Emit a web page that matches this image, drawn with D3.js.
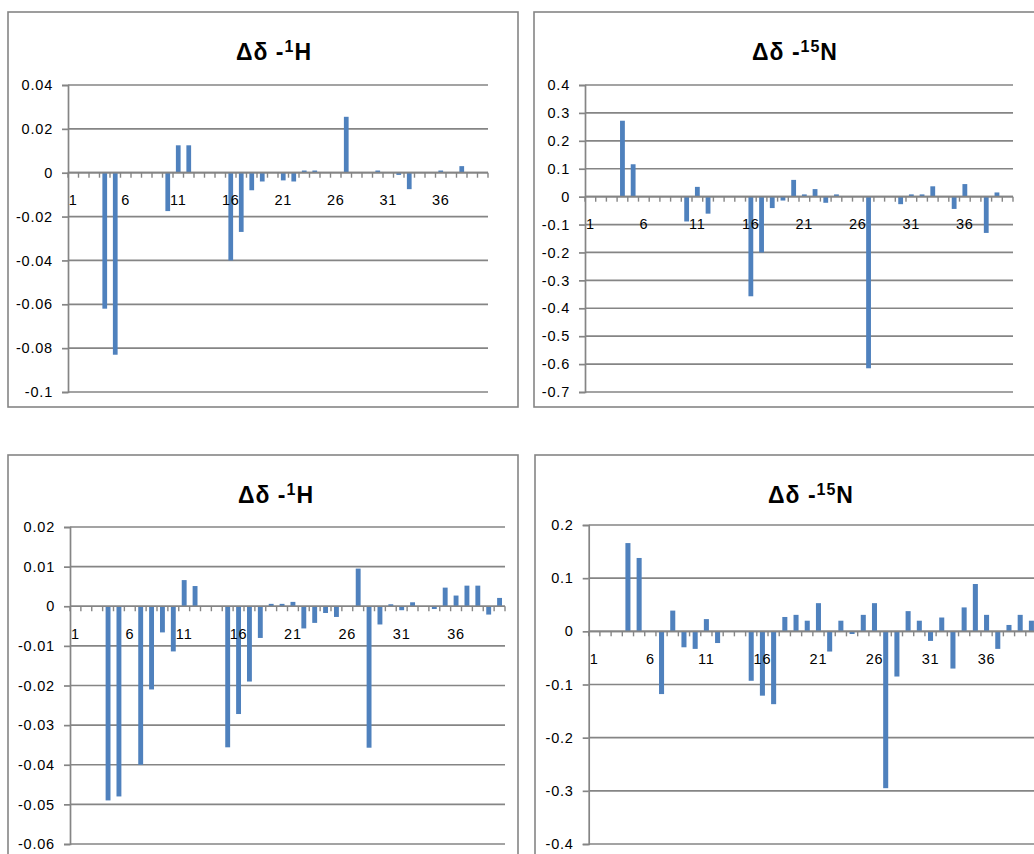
<!DOCTYPE html>
<html>
<head>
<meta charset="utf-8">
<script src="https://cdn.jsdelivr.net/npm/d3@7"></script>
<style>
  html, body { margin: 0; padding: 0; background: #fff; }
  svg { display: block; overflow: hidden; }
  text { font-family: "Liberation Sans", Arial, sans-serif; }
</style>
</head>
<body>
<svg id="chart" width="1034" height="854"></svg>
<script>
// ---------- data ----------
const categories = d3.range(1, 41).map(String);
const xTickLabels = ["1", "6", "11", "16", "21", "26", "31", "36"];

const titles = [
  { main: "Δδ -", sup: "1", tail: "H" },
  { main: "Δδ -", sup: "15", tail: "N" },
  { main: "Δδ -", sup: "1", tail: "H" },
  { main: "Δδ -", sup: "15", tail: "N" }
];

const hShiftTop = [0, 0, 0, -0.062, -0.083, 0, 0, 0, 0, -0.0175,
  0.0125, 0.0125, 0, 0, 0, -0.040, -0.027, -0.008, -0.004, 0,
  -0.0035, -0.004, 0.001, 0.001, 0, 0, 0.0255, 0, 0, 0.001,
  0, -0.001, -0.0075, 0, 0, 0.001, 0, 0.003, 0, 0];

const nShiftTop = [0, 0, 0, 0.272, 0.116, 0, 0, 0, 0, -0.089,
  0.035, -0.061, 0, 0, 0, -0.357, -0.20, -0.041, -0.014, 0.06,
  0.008, 0.027, -0.022, 0.008, 0, 0, -0.615, 0, 0, -0.027,
  0.008, 0.008, 0.037, 0, -0.044, 0.045, 0, -0.13, 0.015, 0];

const hShiftBottom = [0, 0, 0, -0.049, -0.048, 0, -0.040, -0.021, -0.0066, -0.0114,
  0.0066, 0.0051, 0, 0, -0.0356, -0.0272, -0.019, -0.008, 0.0006, 0.0006,
  0.0011, -0.0056, -0.0042, -0.0017, -0.0027, 0, 0.0095, -0.0357, -0.0046, 0.0005,
  -0.001, 0.001, 0, -0.0007, 0.0047, 0.0027, 0.0052, 0.0052, -0.0021, 0.0021];

const nShiftBottom = [0, 0, 0, 0.166, 0.138, 0, -0.118, 0.039, -0.030, -0.033,
  0.023, -0.022, 0, 0, -0.093, -0.121, -0.137, 0.027, 0.031, 0.020,
  0.053, -0.038, 0.020, -0.005, 0.031, 0.053, -0.295, -0.085, 0.038, 0.020,
  -0.018, 0.026, -0.070, 0.045, 0.089, 0.031, -0.033, 0.012, 0.031, 0.020];

const yTicksHTop = [0.04, 0.02, 0, -0.02, -0.04, -0.06, -0.08, -0.1];
const yTicksNTop = [0.4, 0.3, 0.2, 0.1, 0, -0.1, -0.2, -0.3, -0.4, -0.5, -0.6, -0.7];
const yTicksHBottom = [0.02, 0.01, 0, -0.01, -0.02, -0.03, -0.04, -0.05, -0.06];
const yTicksNBottom = [0.2, 0.1, 0, -0.1, -0.2, -0.3, -0.4];

// ---------- layout ----------
const panels = [
  { values: hShiftTop, ticks: yTicksHTop, title: titles[0],
    box: [8, 12, 510, 395], plot: { l: 68, r: 488, t: 85, b: 392 }, titleX: 274, titleY: 60 },
  { values: nShiftTop, ticks: yTicksNTop, title: titles[1],
    box: [534, 12, 540, 395], plot: { l: 585, r: 1013, t: 85, b: 392 }, titleX: 795, titleY: 60 },
  { values: hShiftBottom, ticks: yTicksHBottom, title: titles[2],
    box: [8, 455, 510, 430], plot: { l: 70, r: 505, t: 527, b: 844 }, titleX: 276, titleY: 503 },
  { values: nShiftBottom, ticks: yTicksNBottom, title: titles[3],
    box: [535, 455, 540, 430], plot: { l: 588.7, r: 1037, t: 525, b: 844 }, titleX: 811, titleY: 503 }
];

const gridColor = "#858585";
const barColor = "#4f81bd";
const fmt = v => String(+v.toFixed(3));

const svg = d3.select("#chart");

panels.forEach(p => {
  const g = svg.append("g");
  g.append("rect")
    .attr("x", p.box[0]).attr("y", p.box[1])
    .attr("width", p.box[2]).attr("height", p.box[3])
    .attr("fill", "#fff").attr("stroke", gridColor).attr("stroke-width", 1.6);

  const x = d3.scaleBand().domain(categories).range([p.plot.l, p.plot.r]).padding(0);
  const y = d3.scaleLinear()
    .domain([d3.min(p.ticks), d3.max(p.ticks)])
    .range([p.plot.b, p.plot.t]);

  // title
  const t = g.append("text")
    .attr("x", p.titleX).attr("y", p.titleY)
    .attr("text-anchor", "middle")
    .attr("font-weight", "bold")
    .attr("font-size", 23)
    .attr("letter-spacing", 1)
    .attr("fill", "#000");
  t.append("tspan").text(p.title.main);
  t.append("tspan").attr("font-size", 16).attr("dy", -8).text(p.title.sup);
  t.append("tspan").attr("dy", 8).text(p.title.tail);

  // gridlines
  g.append("g").selectAll("line").data(p.ticks).join("line")
    .attr("x1", p.plot.l).attr("x2", p.plot.r)
    .attr("y1", d => y(d)).attr("y2", d => y(d))
    .attr("stroke", gridColor).attr("stroke-width", 1.7);

  // y axis
  const ya = g.append("g")
    .attr("transform", `translate(${p.plot.l},0)`)
    .call(d3.axisLeft(y).tickValues(p.ticks).tickFormat(fmt).tickSize(6).tickPadding(9));
  ya.select(".domain").attr("stroke", gridColor).attr("stroke-width", 1.7);
  ya.selectAll(".tick line").attr("stroke", gridColor).attr("stroke-width", 1.7);
  ya.selectAll(".tick text")
    .attr("font-size", 14.5).attr("letter-spacing", 0.8)
    .attr("font-family", "Liberation Sans, Arial, sans-serif")
    .attr("fill", "#000");

  // bars
  const bw = x.bandwidth() * 0.45;
  g.append("g").selectAll("rect").data(p.values).join("rect")
    .attr("x", (d, i) => x(categories[i]) + (x.bandwidth() - bw) / 2)
    .attr("width", bw)
    .attr("y", d => Math.min(y(d), y(0)))
    .attr("height", d => Math.abs(y(d) - y(0)))
    .attr("fill", barColor);

  // x axis at zero: line + tick marks at category boundaries
  const y0 = y(0);
  g.append("line")
    .attr("x1", p.plot.l).attr("x2", p.plot.r)
    .attr("y1", y0).attr("y2", y0)
    .attr("stroke", gridColor).attr("stroke-width", 1.7);
  const bounds = categories.map(c => x(c)).concat([p.plot.r]);
  g.append("g").selectAll("line").data(bounds).join("line")
    .attr("x1", d => d).attr("x2", d => d)
    .attr("y1", y0).attr("y2", y0 + 5)
    .attr("stroke", gridColor).attr("stroke-width", 1.4);

  const xa = g.append("g")
    .attr("transform", `translate(0,${y0})`)
    .call(d3.axisBottom(x).tickValues(xTickLabels).tickSize(0).tickPadding(22));
  xa.select(".domain").remove();
  xa.selectAll(".tick text")
    .attr("font-size", 14.5).attr("letter-spacing", 0.8)
    .attr("font-family", "Liberation Sans, Arial, sans-serif")
    .attr("fill", "#000");
});
</script>
</body>
</html>
